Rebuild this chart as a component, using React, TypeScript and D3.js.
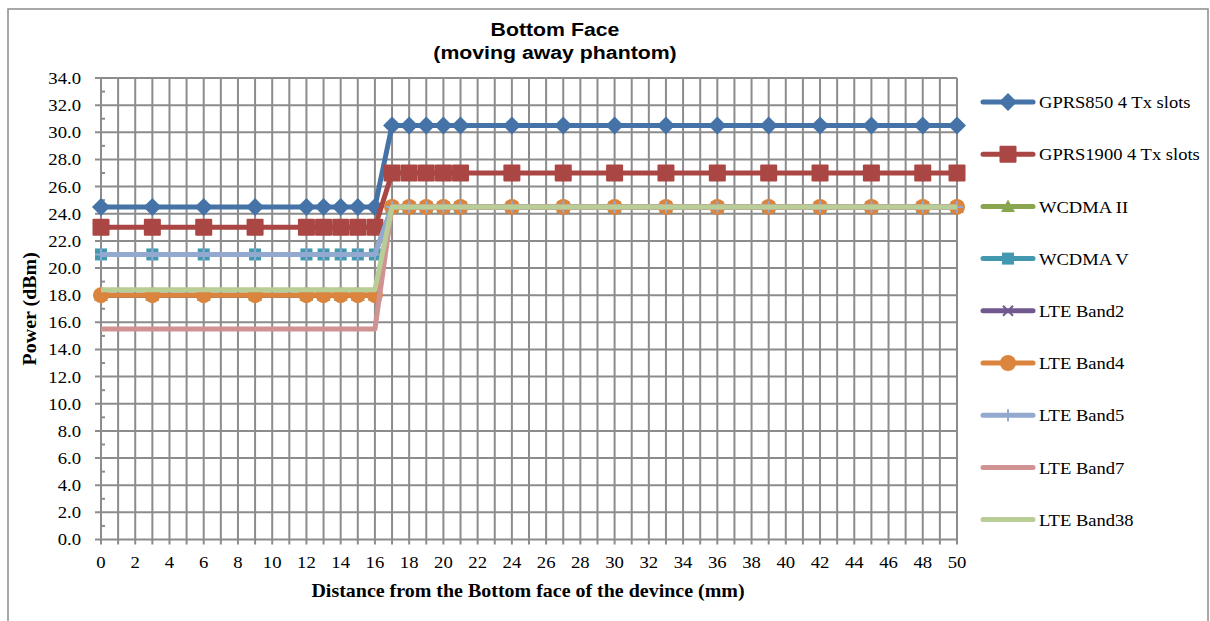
import * as d3 from 'd3';
import React from 'react';

// distances (mm) at which power was measured
const distances = [0, 3, 6, 9, 12, 13, 14, 15, 16, 17, 18, 19, 20, 21, 24, 27, 30, 33, 36, 39, 42, 45, 48, 50];

const gprs850 = [24.5, 24.5, 24.5, 24.5, 24.5, 24.5, 24.5, 24.5, 24.5, 30.5, 30.5, 30.5, 30.5, 30.5, 30.5, 30.5, 30.5, 30.5, 30.5, 30.5, 30.5, 30.5, 30.5, 30.5];
const gprs1900 = [23.0, 23.0, 23.0, 23.0, 23.0, 23.0, 23.0, 23.0, 23.0, 27.0, 27.0, 27.0, 27.0, 27.0, 27.0, 27.0, 27.0, 27.0, 27.0, 27.0, 27.0, 27.0, 27.0, 27.0];
const wcdmaII = [18.0, 18.0, 18.0, 18.0, 18.0, 18.0, 18.0, 18.0, 18.0, 24.5, 24.5, 24.5, 24.5, 24.5, 24.5, 24.5, 24.5, 24.5, 24.5, 24.5, 24.5, 24.5, 24.5, 24.5];
const wcdmaV = [21.0, 21.0, 21.0, 21.0, 21.0, 21.0, 21.0, 21.0, 21.0, 24.5, 24.5, 24.5, 24.5, 24.5, 24.5, 24.5, 24.5, 24.5, 24.5, 24.5, 24.5, 24.5, 24.5, 24.5];
const lteBand2 = [18.0, 18.0, 18.0, 18.0, 18.0, 18.0, 18.0, 18.0, 18.0, 24.5, 24.5, 24.5, 24.5, 24.5, 24.5, 24.5, 24.5, 24.5, 24.5, 24.5, 24.5, 24.5, 24.5, 24.5];
const lteBand4 = [18.0, 18.0, 18.0, 18.0, 18.0, 18.0, 18.0, 18.0, 18.0, 24.5, 24.5, 24.5, 24.5, 24.5, 24.5, 24.5, 24.5, 24.5, 24.5, 24.5, 24.5, 24.5, 24.5, 24.5];
const lteBand5 = [21.0, 21.0, 21.0, 21.0, 21.0, 21.0, 21.0, 21.0, 21.0, 24.5, 24.5, 24.5, 24.5, 24.5, 24.5, 24.5, 24.5, 24.5, 24.5, 24.5, 24.5, 24.5, 24.5, 24.5];
const lteBand7 = [15.5, 15.5, 15.5, 15.5, 15.5, 15.5, 15.5, 15.5, 15.5, 24.5, 24.5, 24.5, 24.5, 24.5, 24.5, 24.5, 24.5, 24.5, 24.5, 24.5, 24.5, 24.5, 24.5, 24.5];
const lteBand38 = [18.4, 18.4, 18.4, 18.4, 18.4, 18.4, 18.4, 18.4, 18.4, 24.5, 24.5, 24.5, 24.5, 24.5, 24.5, 24.5, 24.5, 24.5, 24.5, 24.5, 24.5, 24.5, 24.5, 24.5];

const seriesNames = ['GPRS850 4 Tx slots', 'GPRS1900 4 Tx slots', 'WCDMA II', 'WCDMA V', 'LTE Band2', 'LTE Band4', 'LTE Band5', 'LTE Band7', 'LTE Band38'];
const seriesValues = [gprs850, gprs1900, wcdmaII, wcdmaV, lteBand2, lteBand4, lteBand5, lteBand7, lteBand38];
const seriesColors = ['#4572A7', '#AA4643', '#89A54E', '#4198AF', '#71588F', '#DB843D', '#93A9CF', '#D19392', '#B9CD96'];
const seriesMarkers = ['diamond', 'bigSquare', 'triangle', 'square', 'cross', 'circle', 'plus', 'none', 'none'];

const xTicks = d3.range(0, 51, 2);
const yTicks = d3.range(0, 35, 2);

const serif = '"Liberation Serif", "Times New Roman", serif';
const sans = '"Liberation Sans", Arial, sans-serif';

function Marker({ kind, cx, cy, color }: { kind: string; cx: number; cy: number; color: string }) {
  if (kind === 'diamond') {
    const h = 9;
    return <path d={`M${cx},${cy - h}L${cx + h},${cy}L${cx},${cy + h}L${cx - h},${cy}Z`} fill={color} />;
  }
  if (kind === 'bigSquare') {
    const h = 8.5;
    return <rect x={cx - h} y={cy - h} width={2 * h} height={2 * h} fill={color} rx={1} />;
  }
  if (kind === 'square') {
    const h = 6;
    return <rect x={cx - h} y={cy - h} width={2 * h} height={2 * h} fill={color} />;
  }
  if (kind === 'triangle') {
    const h = 7;
    return <path d={`M${cx},${cy - h}L${cx + h},${cy + h * 0.8}L${cx - h},${cy + h * 0.8}Z`} fill={color} />;
  }
  if (kind === 'circle') {
    return <circle cx={cx} cy={cy} r={8} fill={color} />;
  }
  if (kind === 'cross') {
    const h = 5;
    return <path d={`M${cx - h},${cy - h}L${cx + h},${cy + h}M${cx + h},${cy - h}L${cx - h},${cy + h}`} stroke={color} strokeWidth={2} />;
  }
  if (kind === 'plus') {
    const h = 6;
    return <path d={`M${cx},${cy - h}L${cx},${cy + h}M${cx - h},${cy}L${cx + h},${cy}`} stroke={color} strokeWidth={2} />;
  }
  return null;
}

// text stretched a little horizontally, like the original rendering
function Label({ x, y, sx, children, ...rest }: any) {
  return (
    <text transform={`translate(${x},${y}) scale(${sx},1)`} {...rest}>{children}</text>
  );
}

export default function App() {
  const width = 1210;
  const height = 621;
  const plot = { left: 101, right: 957, top: 78, bottom: 539.5 };

  const x = d3.scaleLinear().domain([0, 50]).range([plot.left, plot.right]);
  const y = d3.scaleLinear().domain([0, 34]).range([plot.bottom, plot.top]);

  const line = d3.line<number>()
    .x((d, i) => x(distances[i]))
    .y((d) => y(d));

  const gridColor = '#8C8C8C';

  return (
    <svg width={width} height={height} style={{ position: 'absolute', left: 0, top: 0, background: '#fff' }}>
      <rect x={8} y={9} width={1200} height={700} fill="#fff" stroke="#8C8C8C" strokeWidth={1.5} />

      <Label x={555} y={36} sx={1.12} textAnchor="middle" fontFamily={sans} fontWeight="bold" fontSize={19}>Bottom Face</Label>
      <Label x={555} y={59} sx={1.12} textAnchor="middle" fontFamily={sans} fontWeight="bold" fontSize={19}>(moving away phantom)</Label>

      {/* gridlines: vertical every 1 mm, horizontal every 2 dBm */}
      <g stroke={gridColor} strokeWidth={2}>
        {d3.range(0, 51).map((v) => (
          <line key={'vx' + v} x1={x(v)} x2={x(v)} y1={plot.top} y2={plot.bottom + 5} />
        ))}
        {yTicks.map((v) => (
          <line key={'hy' + v} x1={plot.left - 6} x2={plot.right} y1={y(v)} y2={y(v)} />
        ))}
        {d3.range(1, 34, 2).map((v) => (
          <line key={'my' + v} x1={plot.left} x2={plot.left + 4} y1={y(v)} y2={y(v)} />
        ))}
      </g>

      <g fontFamily={serif} fontSize={17} fill="#000">
        {yTicks.map((v) => (
          <Label key={'yl' + v} x={plot.left - 20} y={y(v)} sx={1.1} dy="0.35em" textAnchor="end">{v.toFixed(1)}</Label>
        ))}
        {xTicks.map((v) => (
          <Label key={'xl' + v} x={x(v)} y={plot.bottom + 28} sx={1.1} textAnchor="middle">{v}</Label>
        ))}
      </g>

      <Label x={528} y={597} sx={1.11} textAnchor="middle" fontFamily={serif} fontWeight="bold" fontSize={18}>
        Distance from the Bottom face of the devince (mm)
      </Label>
      <text transform={`translate(36,${(plot.top + plot.bottom) / 2}) rotate(-90) scale(1.11,1)`} textAnchor="middle" fontFamily={serif} fontWeight="bold" fontSize={18}>
        Power (dBm)
      </text>

      {seriesValues.map((vals, si) => (
        <g key={'s' + si}>
          <path d={line(vals) || ''} fill="none" stroke={seriesColors[si]} strokeWidth={5} strokeLinejoin="round" />
          {vals.map((v, i) => (
            <Marker key={i} kind={seriesMarkers[si]} cx={x(distances[i])} cy={y(v)} color={seriesColors[si]} />
          ))}
        </g>
      ))}

      <g>
        {seriesNames.map((name, i) => {
          const ly = 102 + i * 52.2;
          return (
            <g key={'lg' + i}>
              <line x1={983} x2={1033} y1={ly} y2={ly} stroke={seriesColors[i]} strokeWidth={5} strokeLinecap="round" />
              <Marker kind={seriesMarkers[i]} cx={1008} cy={ly} color={seriesColors[i]} />
              <Label x={1039} y={ly} sx={1.06} dy="0.35em" fontFamily={serif} fontSize={17.5}>{name}</Label>
            </g>
          );
        })}
      </g>
    </svg>
  );
}
